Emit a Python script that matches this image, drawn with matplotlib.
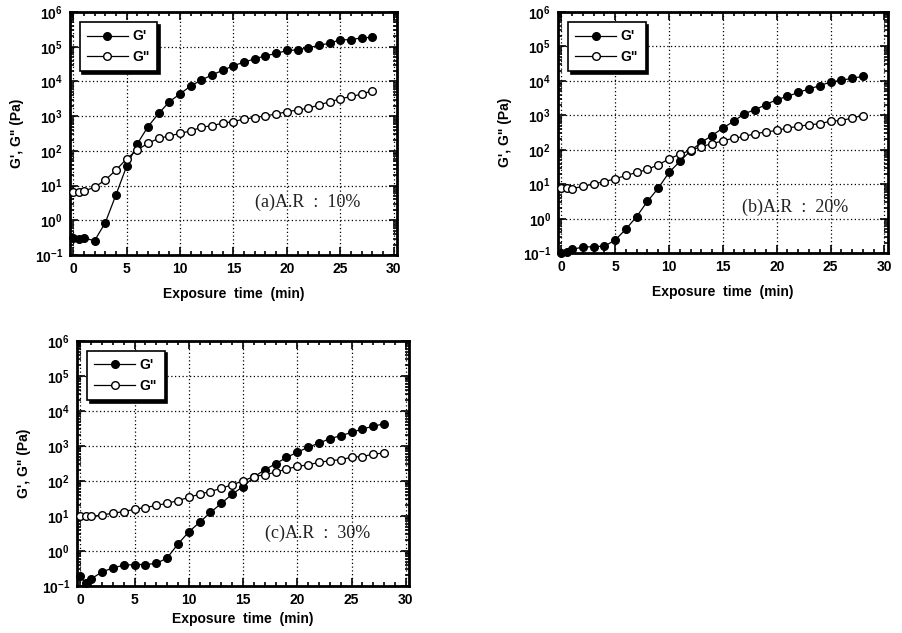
import matplotlib
matplotlib.use("Agg")
import matplotlib.pyplot as plt
from matplotlib.ticker import LogLocator, MultipleLocator, FixedLocator, NullFormatter

plt.rcParams['font.family'] = ['Liberation Sans', 'DejaVu Sans']
plt.rcParams['mathtext.fontset'] = 'custom'
plt.rcParams['mathtext.rm'] = 'Liberation Sans:bold'
plt.rcParams['mathtext.bf'] = 'Liberation Sans:bold'
plt.rcParams['mathtext.it'] = 'Liberation Sans:bold'
plt.rcParams['mathtext.default'] = 'bf'

# ---- data ----
time = [0, 0.5, 1] + list(range(2, 29))

g1_a = [0.31, 0.30, 0.31, 0.26, 0.85, 5.4, 36, 160, 500, 1200, 2600, 4400, 7400, 11000,
        15500, 21000, 28500, 36000, 45000, 55000, 64000, 78000, 81000, 93000, 110000,
        126000, 160000, 158000, 182000, 185000]
g2_a = [6.6, 6.6, 7.0, 9.0, 14.5, 28, 59, 107, 166, 230, 270, 320, 375, 480, 535, 630, 700,
        830, 910, 1030, 1150, 1350, 1500, 1700, 2100, 2600, 3150, 3700, 4300, 5400]

g1_b = [0.10, 0.11, 0.13, 0.15, 0.155, 0.16, 0.24, 0.5, 1.16, 3.2, 7.7, 22, 46, 94, 165,
        260, 430, 670, 1120, 1470, 2050, 2870, 3550, 4650, 5850, 7300, 9300, 10400, 12000, 13500]
g2_b = [7.7, 7.7, 7.5, 8.7, 10.2, 12, 14.4, 18, 22, 27, 37, 54, 75, 96, 125, 150, 183, 218,
        245, 295, 330, 365, 430, 480, 535, 570, 680, 710, 840, 990]

g1_c = [0.19, 0.12, 0.16, 0.25, 0.33, 0.39, 0.41, 0.41, 0.44, 0.63, 1.58, 3.5, 6.6, 12.6,
        23, 42, 69, 129, 210, 310, 470, 660, 920, 1210, 1620, 1970, 2440, 3070, 3650, 4330]
g2_c = [10, 9.7, 9.7, 10.7, 12, 13.3, 15.5, 17.4, 20, 23, 27.5, 34, 42, 50, 62, 78, 100, 134,
        150, 178, 220, 260, 290, 340, 380, 405, 480, 500, 585, 630]

x_ticks = [0, 5, 10, 15, 20, 25, 30]
y_ticks = [1e-1, 1e0, 1e1, 1e2, 1e3, 1e4, 1e5, 1e6]
y_ticklabels = [r'$10^{-1}$', r'$10^{0}$', r'$10^{1}$', r'$10^{2}$', r'$10^{3}$',
                r'$10^{4}$', r'$10^{5}$', r'$10^{6}$']
labels = ["(a)A.R  :  10%", "(b)A.R  :  20%", "(c)A.R  :  30%"]
series_names = ["G'", 'G"']

fig = plt.figure(figsize=(9.03, 6.33), dpi=100)
positions = [
    [0.0775, 0.597, 0.362, 0.384],
    [0.618, 0.600, 0.365, 0.381],
    [0.0853, 0.0743, 0.3677, 0.387],
]
datasets = [(g1_a, g2_a), (g1_b, g2_b), (g1_c, g2_c)]
text_pos = [(17.0, 3.4), (16.8, 2.2), (17.0, 3.2)]
label_pads = [8, 8, 4]

for pos, (g1, g2), lab, tp, lp in zip(positions, datasets, labels, text_pos, label_pads):
    ax = fig.add_axes(pos)
    ax.set_yscale('log')
    ax.plot(time, g1, '-', color='black', lw=0.9, marker='o', ms=5.5,
            mfc='black', mec='black', label=series_names[0], clip_on=False, zorder=3)
    ax.plot(time, g2, '-', color='black', lw=0.9, marker='o', ms=5.5,
            mfc='white', mec='black', mew=1.0, label=series_names[1], clip_on=False, zorder=3)
    ax.set_xlim(-0.3, 30.3)
    ax.set_ylim(1e-1, 1e6)
    ax.xaxis.set_major_locator(FixedLocator(x_ticks))
    ax.xaxis.set_minor_locator(MultipleLocator(1))
    ax.set_xticklabels([str(v) for v in x_ticks], fontsize=10, fontweight='bold')
    ax.yaxis.set_major_locator(FixedLocator(y_ticks))
    ax.set_yticklabels(y_ticklabels, fontsize=10)
    ax.yaxis.set_minor_locator(LogLocator(base=10, subs=range(2, 10), numticks=20))
    ax.yaxis.set_minor_formatter(NullFormatter())
    ax.tick_params(which='both', direction='in', top=True, right=True, width=1.2)
    ax.tick_params(which='major', length=6, pad=5)
    ax.tick_params(which='minor', length=3)
    for s in ax.spines.values():
        s.set_linewidth(2.0)
    ax.grid(True, which='major', color='black', linestyle=(0, (1, 2)), linewidth=0.9)
    ax.set_xlabel('Exposure  time  (min)', fontsize=10, fontweight='bold', labelpad=lp)
    ax.set_ylabel('G\', G" (Pa)', fontsize=10, fontweight='bold', labelpad=8)
    ax.text(tp[0], tp[1], lab, fontsize=13, family='Liberation Serif', color='#222222',
            va='center')
    leg = ax.legend(loc='upper left', frameon=True, fancybox=False,
                    edgecolor='black', handlelength=2.9, handletextpad=0.35,
                    borderaxespad=0.7,
                    shadow={'color': 'black', 'alpha': 1.0}, labelspacing=0.45,
                    borderpad=0.55, prop={'weight': 'bold', 'size': 10})
    leg.get_frame().set_linewidth(1.2)
    leg.get_frame().set_alpha(1)

fig.savefig('out.png', dpi=100)
